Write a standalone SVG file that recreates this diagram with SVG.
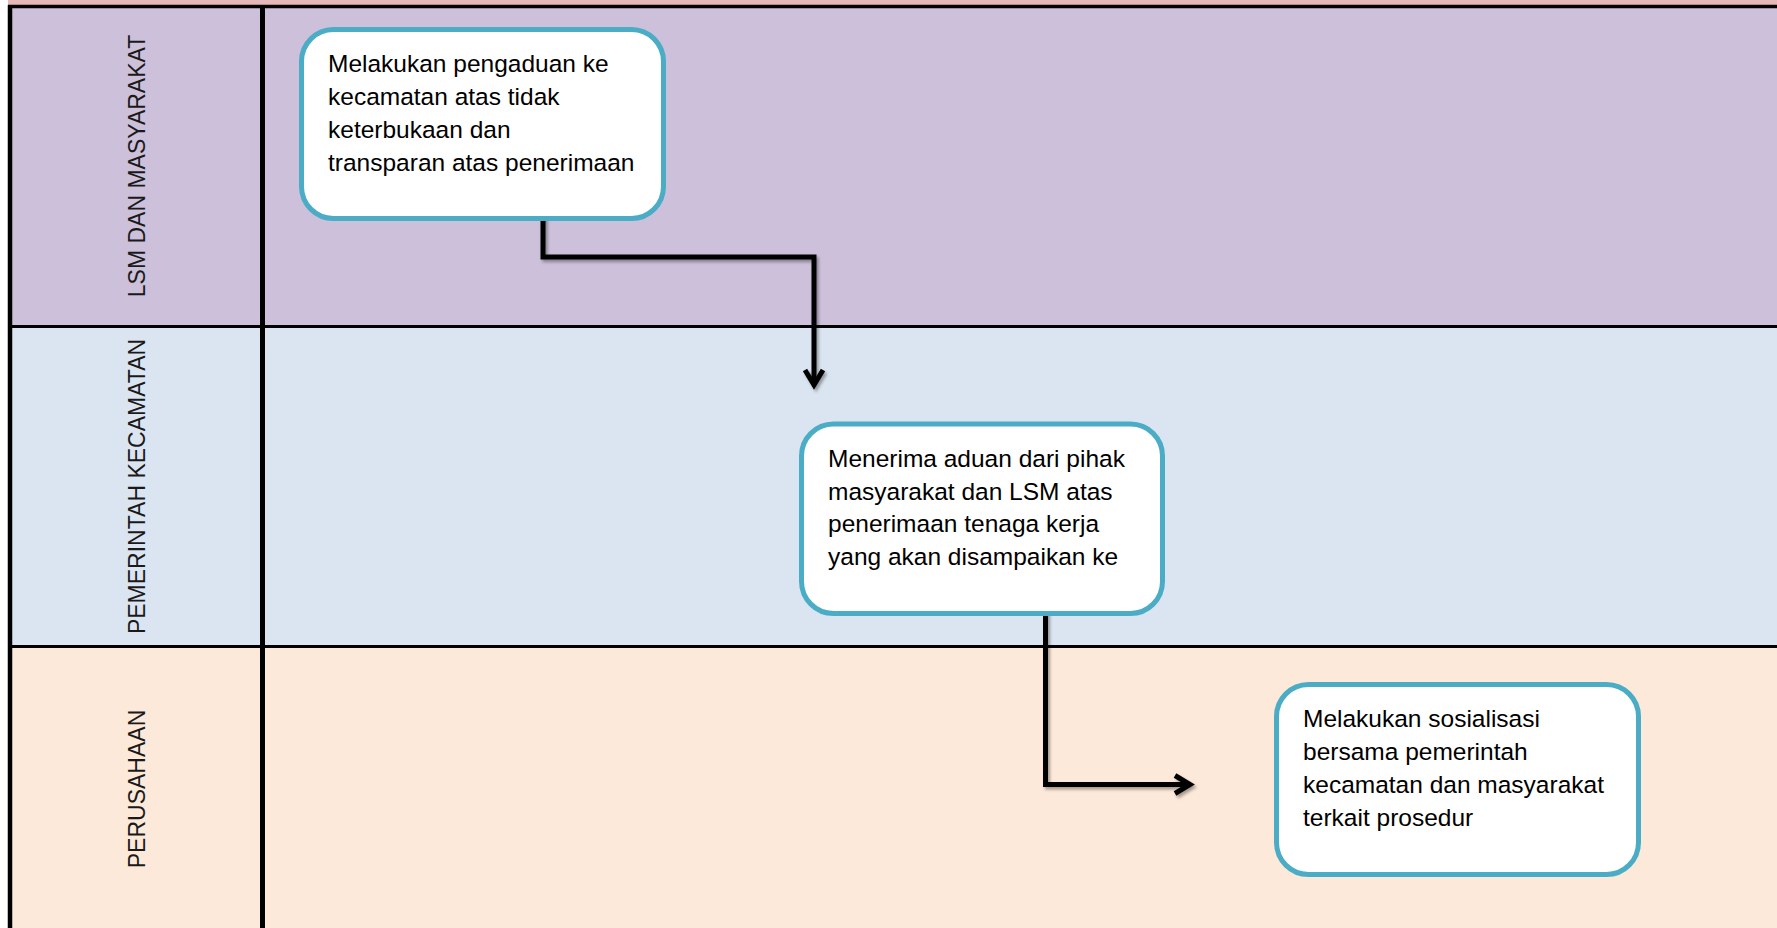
<svg xmlns="http://www.w3.org/2000/svg" width="1777" height="928" viewBox="0 0 1777 928">
<style>
.lane-label{font-family:"Liberation Sans",Arial,sans-serif;font-size:23px;fill:#1a1a1a;text-anchor:middle;dominant-baseline:central}
.box{fill:#ffffff;stroke:#4BACC6;stroke-width:5}
.btxt{font-family:"Liberation Sans",Arial,sans-serif;font-size:24.5px;fill:#000000}
.conn{fill:none;stroke:#000000;stroke-width:5;stroke-linejoin:miter;stroke-linecap:butt}
.frame{stroke:#000000;fill:none}
</style>
<defs>
<marker id="chev" markerUnits="userSpaceOnUse" markerWidth="40" markerHeight="40" viewBox="-30 -20 40 40" refX="0" refY="0" orient="auto" overflow="visible">
<path d="M-15,-9 L0,0 L-15,9" fill="none" stroke="#000000" stroke-width="5" stroke-linejoin="miter"/>
</marker>
<filter id="shadow" x="-10%" y="-10%" width="130%" height="130%">
<feDropShadow dx="2" dy="2.5" stdDeviation="1.5" flood-color="#000000" flood-opacity="0.35"/>
</filter>
</defs>
<rect x="0" y="0" width="1777" height="928" fill="#ffffff"/>
<g id="lanes">
<rect x="8" y="0" width="1769" height="6" fill="#E6B9B8"/>
<rect x="10" y="6.5" width="1767" height="320" fill="#CCC0DA"/>
<rect x="10" y="326.5" width="1767" height="320" fill="#DBE5F1"/>
<rect x="10" y="646.5" width="1767" height="282" fill="#FDE9D9"/>
<line class="frame" x1="8" y1="6.5" x2="1777" y2="6.5" stroke-width="3.5"/>
<line class="frame" x1="10" y1="5" x2="10" y2="928" stroke-width="4.5"/>
<line class="frame" x1="262.5" y1="5" x2="262.5" y2="928" stroke-width="5"/>
<line class="frame" x1="10" y1="326.5" x2="1777" y2="326.5" stroke-width="3"/>
<line class="frame" x1="10" y1="646.5" x2="1777" y2="646.5" stroke-width="3"/>
</g>
<g id="lane-lsm">
<text class="lane-label" transform="translate(137,166) rotate(-90)">LSM DAN MASYARAKAT</text>
</g>
<g id="lane-kecamatan">
<text class="lane-label" transform="translate(137,486.5) rotate(-90)">PEMERINTAH KECAMATAN</text>
</g>
<g id="lane-perusahaan">
<text class="lane-label" transform="translate(137,789) rotate(-90)">PERUSAHAAN</text>
</g>
<g id="connectors" filter="url(#shadow)">
<path class="conn" d="M543,215 L543,257 L814,257 L814,385" marker-end="url(#chev)"/>
<path class="conn" d="M1045.5,610 L1045.5,784.5 L1190,784.5" marker-end="url(#chev)"/>
</g>
<g id="node-pengaduan">
<rect class="box" x="301.5" y="29.5" width="362" height="189" rx="32" ry="32"/>
<text class="btxt" x="328" y="71.7">Melakukan pengaduan ke</text>
<text class="btxt" x="328" y="104.7">kecamatan atas tidak</text>
<text class="btxt" x="328" y="137.7">keterbukaan dan</text>
<text class="btxt" x="328" y="170.7">transparan atas penerimaan</text>
</g>
<g id="node-menerima">
<rect class="box" x="801.5" y="424" width="361" height="189.5" rx="32" ry="32"/>
<text class="btxt" x="828" y="466.7">Menerima aduan dari pihak</text>
<text class="btxt" x="828" y="499.5">masyarakat dan LSM atas</text>
<text class="btxt" x="828" y="532.3">penerimaan tenaga kerja</text>
<text class="btxt" x="828" y="565">yang akan disampaikan ke</text>
</g>
<g id="node-sosialisasi">
<rect class="box" x="1276.5" y="684.5" width="362" height="190" rx="32" ry="32"/>
<text class="btxt" x="1303" y="727.3">Melakukan sosialisasi</text>
<text class="btxt" x="1303" y="760.3">bersama pemerintah</text>
<text class="btxt" x="1303" y="793.3">kecamatan dan masyarakat</text>
<text class="btxt" x="1303" y="826.3">terkait prosedur</text>
</g>
</svg>
